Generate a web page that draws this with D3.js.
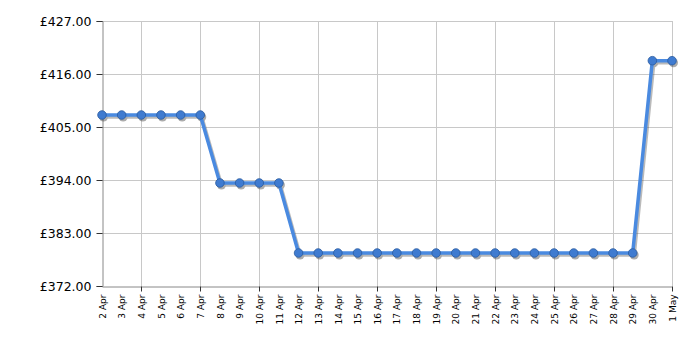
<!DOCTYPE html>
<html>
<head>
<meta charset="utf-8">
<script src="https://cdn.jsdelivr.net/npm/d3@7"></script>
<style>
  body { margin: 0; background: #fff; }
  text { font-family: "DejaVu Sans", Verdana, sans-serif; fill: #000; }
</style>
</head>
<body>
<div id="chart"></div>
<script>
var width = 700,
    height = 350;

var margin = {top: 21, right: 28, bottom: 64, left: 102};

// dates shown along the bottom
var dates = ["2 Apr", "3 Apr", "4 Apr", "5 Apr", "6 Apr", "7 Apr", "8 Apr", "9 Apr",
    "10 Apr", "11 Apr", "12 Apr", "13 Apr", "14 Apr", "15 Apr", "16 Apr", "17 Apr",
    "18 Apr", "19 Apr", "20 Apr", "21 Apr", "22 Apr", "23 Apr", "24 Apr", "25 Apr",
    "26 Apr", "27 Apr", "28 Apr", "29 Apr", "30 Apr", "1 May"];

// price per day
var prices = [407.49, 407.49, 407.49, 407.49, 407.49, 407.49,
    393.38, 393.38, 393.38, 393.38,
    378.85, 378.85, 378.85, 378.85, 378.85, 378.85, 378.85, 378.85, 378.85,
    378.85, 378.85, 378.85, 378.85, 378.85, 378.85, 378.85, 378.85, 378.85,
    418.76, 418.76];

var yTicks = [372, 383, 394, 405, 416, 427];
// dates that get a grid line
var gridDates = ["4 Apr", "7 Apr", "10 Apr", "13 Apr", "16 Apr", "19 Apr", "22 Apr", "25 Apr", "28 Apr", "1 May"];

var svg = d3.select("#chart").append("svg")
    .attr("width", width)
    .attr("height", height);

var x = d3.scalePoint()
    .domain(dates)
    .range([margin.left, width - margin.right]);

var y = d3.scaleLinear()
    .domain([372, 427])
    .range([height - margin.bottom, margin.top]);

// grid
var grid = svg.append("g").attr("stroke", "#c8c8c8").attr("stroke-width", 1);
grid.selectAll("line.h")
    .data(yTicks.slice(1))
    .enter().append("line")
    .attr("x1", margin.left).attr("x2", width - margin.right)
    .attr("y1", function(d) { return Math.round(y(d)) + 0.5; })
    .attr("y2", function(d) { return Math.round(y(d)) + 0.5; });
grid.selectAll("line.v")
    .data(gridDates)
    .enter().append("line")
    .attr("y1", margin.top).attr("y2", height - margin.bottom)
    .attr("x1", function(d) { return Math.round(x(d)) + 0.5; })
    .attr("x2", function(d) { return Math.round(x(d)) + 0.5; });

// y axis
var yAxis = svg.append("g")
    .attr("transform", "translate(" + (margin.left + 0.5) + ",0)")
    .call(d3.axisLeft(y).tickValues(yTicks).tickSize(6).tickPadding(5)
        .tickFormat(function(d) { return "£" + d3.format(".2f")(d); }));
yAxis.select(".domain").attr("stroke", "#888");
yAxis.selectAll(".tick line").attr("stroke", "#333");
yAxis.selectAll("text").style("font-size", "12.5px");

// x axis
var xAxis = svg.append("g")
    .attr("transform", "translate(0," + (height - margin.bottom + 0.5) + ")")
    .call(d3.axisBottom(x).tickSize(0).tickPadding(0));
xAxis.select(".domain").attr("stroke", "#888");
xAxis.selectAll(".tick line").remove();
xAxis.selectAll(".tick text")
    .style("font-size", "9px")
    .attr("text-anchor", "end")
    .attr("transform", "rotate(-90)")
    .attr("x", -8)
    .attr("y", 0)
    .attr("dy", "0.35em");
xAxis.selectAll("line.tk")
    .data(gridDates)
    .enter().append("line")
    .attr("stroke", "#333")
    .attr("x1", function(d) { return Math.round(x(d)) + 0.5; })
    .attr("x2", function(d) { return Math.round(x(d)) + 0.5; })
    .attr("y1", 0).attr("y2", 5);

var line = d3.line()
    .x(function(d, i) { return x(dates[i]); })
    .y(function(d) { return y(d); });

// shadow
var shadow = svg.append("g").attr("transform", "translate(1.5,2)").attr("opacity", 0.4);
shadow.append("path")
    .datum(prices)
    .attr("d", line)
    .attr("fill", "none")
    .attr("stroke", "#555")
    .attr("stroke-width", 3.5);
shadow.selectAll("circle")
    .data(prices)
    .enter().append("circle")
    .attr("cx", function(d, i) { return x(dates[i]); })
    .attr("cy", function(d) { return y(d); })
    .attr("r", 4.5)
    .attr("fill", "#333");

svg.append("path")
    .datum(prices)
    .attr("d", line)
    .attr("fill", "none")
    .attr("stroke", "#4a8ae0")
    .attr("stroke-width", 3.5)
    .attr("stroke-linejoin", "round");

svg.selectAll("circle.pt")
    .data(prices)
    .enter().append("circle")
    .attr("class", "pt")
    .attr("cx", function(d, i) { return x(dates[i]); })
    .attr("cy", function(d) { return y(d); })
    .attr("r", 4.3)
    .attr("fill", "#3f7bd0")
    .attr("stroke", "#2a5a9e")
    .attr("stroke-width", 0.8);
</script>
</body>
</html>
